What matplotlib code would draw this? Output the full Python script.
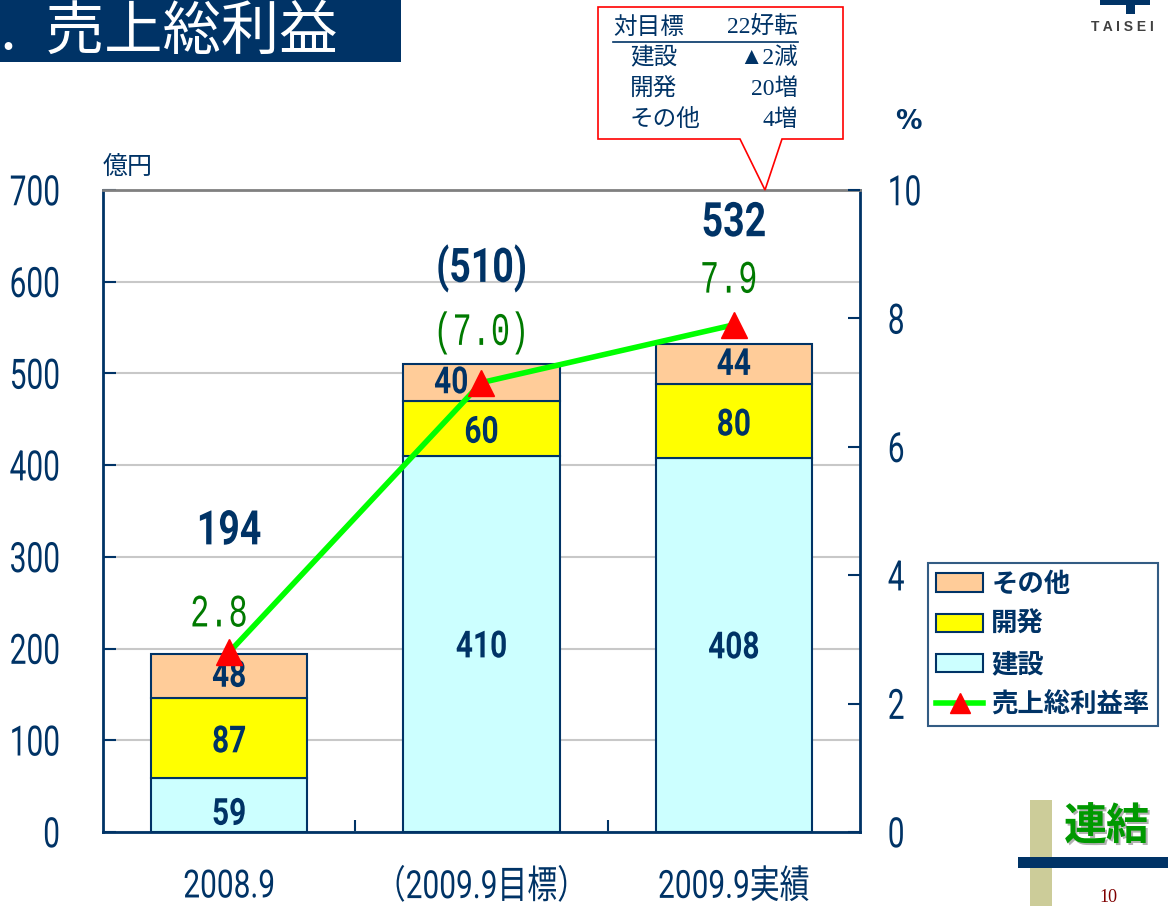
import matplotlib
matplotlib.use('Agg')
import matplotlib.pyplot as plt
from matplotlib.patches import Rectangle, Polygon, Patch
from matplotlib.lines import Line2D
from matplotlib.patheffects import AbstractPathEffect
from matplotlib.transforms import Affine2D
import numpy as np

#%% data
categories = ['2008.9', '（2009.9目標）', '2009.9実績']
kensetsu = [59, 410, 408]     # 建設
kaihatsu = [87, 60, 80]       # 開発
sonota = [48, 40, 44]         # その他
total_labels = ['194', '(510)', '532']
rate = [2.8, 7.0, 7.9]        # 売上総利益率 %
rate_labels = ['2.8', '(7.0)', '7.9']
left_ticks = [0, 100, 200, 300, 400, 500, 600, 700]
right_ticks = [0, 2, 4, 6, 8, 10]

#%% style
W, H = 1168, 906
NAVY = '#003366'
GREEN_TXT = '#007A00'
BASE = ['Roboto', 'Noto Sans CJK JP', 'DejaVu Sans']
CJK = ['Noto Sans CJK JP', 'DejaVu Sans']
plt.rcParams['font.family'] = BASE


class Tall(AbstractPathEffect):
    # stretch glyphs vertically around their middle (the original uses a condensed gothic)
    def __init__(self, sy=1.35):
        super().__init__()
        self.sy = sy

    def draw_path(self, renderer, gc, tpath, affine, rgbFace=None):
        ext = tpath.get_extents()
        cy = (ext.y0 + ext.y1) / 2
        t = Affine2D().translate(0, -cy).scale(1, self.sy).translate(0, cy)
        renderer.draw_path(gc, tpath, t + affine, rgbFace)


def fx(x):
    return x / W


def fy(y):
    return 1 - y / H


fig = plt.figure(figsize=(W / 100, H / 100), dpi=100)
ax = fig.add_axes([fx(103), fy(832), (860 - 103) / W, (832 - 190) / H])
x = np.arange(len(categories))
bw = 0.62

ax.bar(x, kensetsu, bw, color='#CCFFFF', edgecolor=NAVY, lw=1.5, zorder=2)
ax.bar(x, kaihatsu, bw, bottom=kensetsu, color='#FFFF00', edgecolor=NAVY, lw=1.5, zorder=2)
bot3 = np.array(kensetsu) + np.array(kaihatsu)
ax.bar(x, sonota, bw, bottom=bot3, color='#FFCC99', edgecolor=NAVY, lw=1.5, zorder=2)

ax.set_xlim(-0.5, 2.5)
ax.set_ylim(0, 700)
ax.set_yticks(left_ticks)
ax.set_yticklabels([str(t) for t in left_ticks], fontsize=21.5, color=NAVY)
ax.tick_params(axis='y', direction='in', length=9, width=1.5, color=NAVY, pad=31)
for lab in ax.get_yticklabels():
    lab.set_path_effects([Tall(1.4)])
ax.set_xticks(x)
ax.set_xticklabels(categories, fontsize=21.5, color=NAVY)
ax.tick_params(axis='x', length=0, pad=29)
for lab in ax.get_xticklabels():
    lab.set_path_effects([Tall(1.3)])
ax.set_xticks([0.5, 1.5], minor=True)
ax.tick_params(axis='x', which='minor', direction='in', length=9, width=1.5, color=NAVY)
ax.yaxis.grid(True, color='#C8C8C8', lw=1.5, zorder=0)
ax.set_axisbelow(True)
for s in ['left', 'bottom', 'right']:
    ax.spines[s].set_color(NAVY)
    ax.spines[s].set_linewidth(2)
ax.spines['top'].set_color('#808080')
ax.spines['top'].set_linewidth(2)

# segment labels
seg_fx = [Tall(1.25)]
for i in range(3):
    ax.text(x[i], kensetsu[i] / 2 - (10 if i == 0 else 3), str(kensetsu[i]), ha='center', va='center',
            fontsize=21.5, fontweight='bold', color=NAVY, zorder=3, path_effects=seg_fx)
    ax.text(x[i], kensetsu[i] + kaihatsu[i] / 2 - 4, str(kaihatsu[i]), ha='center', va='center',
            fontsize=21.5, fontweight='bold', color=NAVY, zorder=3, path_effects=seg_fx)
    dx = -0.12 if i == 1 else 0
    ax.text(x[i] + dx, bot3[i] + sonota[i] / 2, str(sonota[i]), ha='center', va='center',
            fontsize=21.5, fontweight='bold', color=NAVY, zorder=3, path_effects=seg_fx)

# totals
tot_off = [135, 105, 133]
for i in range(3):
    tot = bot3[i] + sonota[i]
    ax.text(x[i], tot + tot_off[i], total_labels[i], ha='center', va='center',
            fontsize=27, fontweight='bold', color=NAVY, path_effects=[Tall(1.27)])

# rate line on right axis
ax2 = ax.twinx()
ax2.set_ylim(0, 10)
ax2.set_yticks(right_ticks)
ax2.set_yticklabels([str(t) for t in right_ticks], fontsize=21.5, color=NAVY)
ax2.tick_params(axis='y', direction='in', length=9, width=1.5, color=NAVY, pad=20)
for lab in ax2.get_yticklabels():
    lab.set_path_effects([Tall(1.4)])
for s in ax2.spines.values():
    s.set_visible(False)
ax2.plot(x, rate, color='#00FF00', lw=4, zorder=4)
ax2.plot(x, rate, ls='none', marker='^', ms=19, color='#FF0000', zorder=5)
r_off = [0.6, 0.77, 0.7]
r_dx = [-0.04, 0, -0.02]
for i in range(3):
    ax2.text(x[i] + r_dx[i], rate[i] + r_off[i], rate_labels[i], ha='center', va='center',
             fontsize=23, color=GREEN_TXT, family=['Liberation Mono', 'DejaVu Sans Mono'],
             path_effects=[Tall(1.45)])

# legend
handles = [Patch(facecolor='#FFCC99', edgecolor=NAVY, lw=1.5),
           Patch(facecolor='#FFFF00', edgecolor=NAVY, lw=1.5),
           Patch(facecolor='#CCFFFF', edgecolor=NAVY, lw=1.5),
           Line2D([], [], color='#00FF00', lw=4, marker='^', ms=14,
                  markerfacecolor='#FF0000', markeredgecolor='#FF0000')]
labels = ['その他', '開発', '建設', '売上総利益率']
leg = ax2.legend(handles, labels, loc='upper left', bbox_to_anchor=(fx(928), fy(563)),
                 bbox_transform=fig.transFigure, frameon=True, fancybox=False,
                 prop={'family': CJK, 'weight': 'bold', 'size': 19}, labelcolor=NAVY,
                 handlelength=1.8, handleheight=0.7, handletextpad=0.3, labelspacing=0.5,
                 borderpad=0.3, borderaxespad=0)
leg.get_frame().set_edgecolor(NAVY)
leg.get_frame().set_linewidth(1.5)

# title banner
fig.patches.append(Rectangle((0, fy(62)), fx(401), 62 / H, transform=fig.transFigure,
                             facecolor=NAVY, edgecolor='none'))
fig.text(fx(338), fy(32), '1.\u2002売上総利益', ha='right', va='center', fontsize=42,
         color='white', family=CJK)

fig.text(fx(103), fy(167), '億円', ha='left', va='center', fontsize=18, color=NAVY, family=CJK)
fig.text(fx(908), fy(122), '%', ha='center', va='center', fontsize=19, fontweight='bold',
         color=NAVY, family='DejaVu Sans')

# callout box
pts = [(598, 7), (843, 7), (843, 139), (782, 139), (765, 190), (740, 139), (598, 139)]
fig.patches.append(Polygon([(fx(a), fy(b)) for a, b in pts], closed=True, transform=fig.transFigure,
                           facecolor='white', edgecolor='#FF0000', lw=1.2, zorder=5))
fig.text(fx(613), fy(27), '対目標', ha='left', va='center', fontsize=17, color=NAVY, family=CJK, zorder=6)
fig.text(fx(798), fy(27), '22好転', ha='right', va='center', fontsize=17, color=NAVY,
         family=['Liberation Serif', 'Noto Sans CJK JP'], zorder=6)
fig.add_artist(Line2D([fx(613), fx(798)], [fy(42), fy(42)], color=NAVY, lw=1.2, zorder=6))
rows = [('建設', '▲2減', 58), ('開発', '20増', 89), ('その他', '4増', 120)]
for lab, val, yy in rows:
    fig.text(fx(630), fy(yy), lab, ha='left', va='center', fontsize=17, color=NAVY, family=CJK, zorder=6)
    fig.text(fx(798), fy(yy), val, ha='right', va='center', fontsize=17, color=NAVY,
             family=['Liberation Serif', 'Noto Sans CJK JP'], zorder=6)

# logo
fig.patches.append(Rectangle((fx(1126), fy(14)), 9 / W, 14 / H, transform=fig.transFigure,
                             facecolor=NAVY, edgecolor='none'))
fig.patches.append(Rectangle((fx(1100), fy(5)), 50 / W, 5 / H, transform=fig.transFigure,
                             facecolor=NAVY, edgecolor='none'))
fig.text(fx(1122), fy(27), 'T A I S E I', ha='center', va='center', fontsize=10,
         fontweight='bold', color='#404040', family='Liberation Sans')

# bottom right marker
fig.patches.append(Rectangle((fx(1030), 0), 22 / W, 106 / H, transform=fig.transFigure,
                             facecolor='#CCCC99', edgecolor='none'))
fig.patches.append(Rectangle((fx(1018), fy(868)), 150 / W, 11 / H, transform=fig.transFigure,
                             facecolor=NAVY, edgecolor='none'))
fig.text(fx(1109), fy(829), '連結', ha='center', va='center', fontsize=31, fontweight='bold',
         color='#B0B0B0', family=CJK)
fig.text(fx(1107), fy(827), '連結', ha='center', va='center', fontsize=31, fontweight='bold',
         color='#009900', family=CJK)
fig.text(fx(1108), fy(897), '10', ha='center', va='center', fontsize=13, color='#800000',
         family='Liberation Serif')

fig.savefig('out.png', dpi=100)
